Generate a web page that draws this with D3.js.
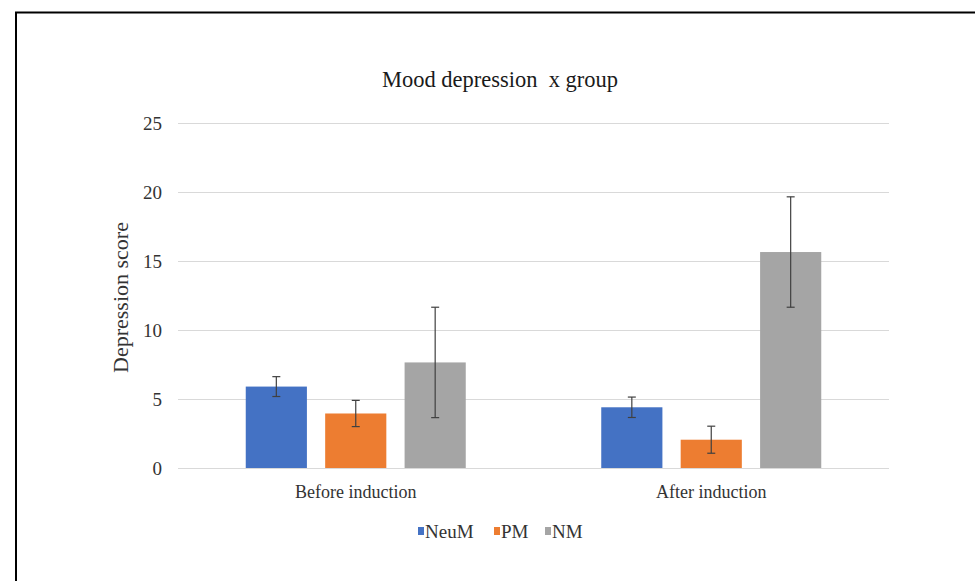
<!DOCTYPE html>
<html>
<head>
<meta charset="utf-8">
<script src="https://cdn.jsdelivr.net/npm/d3@7"></script>
<style>
  html, body { margin: 0; padding: 0; background: #fff; }
  svg { display: block; }
  text { font-family: "Liberation Serif", "Times New Roman", serif; }
</style>
</head>
<body>
<svg id="chart" width="975" height="581"></svg>
<script>
const groups = ["Before induction", "After induction"];
const series = ["NeuM", "PM", "NM"];
const colors = ["#4472C4", "#ED7D31", "#A5A5A5"];
const meanBefore = [5.9, 3.95, 7.65];
const meanAfter = [4.4, 2.05, 15.65];
const errBefore = [0.72, 0.95, 4.0];
const errAfter = [0.74, 0.98, 4.0];
const yTicks = [0, 5, 10, 15, 20, 25];
const title = "Mood depression  x group";
const yTitle = "Depression score";

(function () {
const means = [meanBefore, meanAfter];
const errs = [errBefore, errAfter];
const data = [];
groups.forEach((g, gi) => series.forEach((s, si) => {
  data.push({ group: g, series: s, value: means[gi][si], err: errs[gi][si], color: colors[si] });
}));

const svg = d3.select("#chart");
const W = 975, H = 581;
const pLeft = 178, pRight = 889, pTop = 123, pBottom = 468;

// frame (left + top lines)
svg.append("path").attr("d", `M16,${H} L16,12.5 L${W},12.5`)
  .attr("fill", "none").attr("stroke", "#000").attr("stroke-width", 2);

const y = d3.scaleLinear().domain([0, 25]).range([pBottom, pTop]);
const x0 = d3.scaleBand().domain(groups).range([pLeft, pRight]).padding(0);
const bw = x0.bandwidth();
const x1 = d3.scaleBand().domain(series).range([bw / 2 - 110, bw / 2 + 110]).paddingInner(0.23).paddingOuter(0);

// gridlines
const yAxis = d3.axisLeft(y).tickValues(yTicks).tickSize(-(pRight - pLeft)).tickPadding(16).tickFormat(d3.format("d"));
const ga = svg.append("g").attr("transform", `translate(${pLeft},0)`).call(yAxis);
ga.select(".domain").remove();
ga.selectAll(".tick line").attr("stroke", "#d9d9d9").attr("stroke-width", 1.2);
ga.selectAll(".tick text").attr("fill", "#333").style("font-size", "19px")
  .style("font-family", "'Liberation Serif', serif");

// bars
svg.append("g").selectAll("rect").data(data).join("rect")
  .attr("x", d => x0(d.group) + x1(d.series))
  .attr("y", d => y(d.value))
  .attr("width", x1.bandwidth())
  .attr("height", d => y(0) - y(d.value))
  .attr("fill", d => d.color);

// error bars
const eg = svg.append("g").attr("stroke", "#404040").attr("stroke-width", 1.2);
data.forEach(d => {
  const cx = x0(d.group) + x1(d.series) + x1.bandwidth() / 2;
  const y1 = y(d.value + d.err), y2 = y(d.value - d.err);
  eg.append("line").attr("x1", cx).attr("x2", cx).attr("y1", y1).attr("y2", y2);
  eg.append("line").attr("x1", cx - 4).attr("x2", cx + 4).attr("y1", y1).attr("y2", y1);
  eg.append("line").attr("x1", cx - 4).attr("x2", cx + 4).attr("y1", y2).attr("y2", y2);
});

// x labels
svg.append("g").selectAll("text").data(groups).join("text")
  .attr("x", d => x0(d) + bw / 2).attr("y", 498)
  .attr("text-anchor", "middle").attr("fill", "#333")
  .style("font-size", "18px").text(d => d);

// title
svg.append("text").attr("x", 500).attr("y", 87).attr("text-anchor", "middle")
  .attr("fill", "#1a1a1a").style("font-size", "22.5px").style("white-space", "pre").text(title);

// y title
svg.append("text").attr("transform", `translate(128,${(pTop + pBottom) / 2 + 2}) rotate(-90)`)
  .attr("text-anchor", "middle").attr("fill", "#333").style("font-size", "22px").text(yTitle);

// legend
const legendX = [418, 494, 545];
const lg = svg.append("g");
series.forEach((s, i) => {
  lg.append("rect").attr("x", legendX[i]).attr("y", 527).attr("width", 6).attr("height", 8).attr("fill", colors[i]);
  lg.append("text").attr("x", legendX[i] + 7).attr("y", 538).attr("fill", "#333")
    .style("font-size", "19px").text(s);
});
})();
</script>
</body>
</html>
